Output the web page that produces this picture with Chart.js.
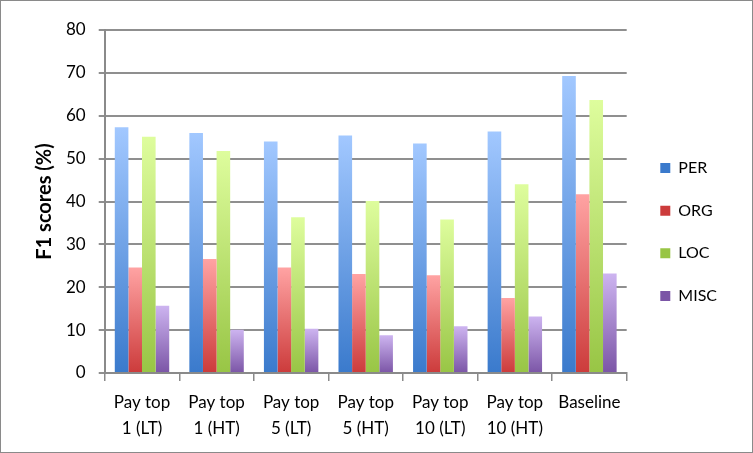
<!DOCTYPE html>
<html>
<head>
<meta charset="utf-8">
<script src="https://cdn.jsdelivr.net/npm/chart.js@4"></script>
<style>
    body { margin: 0; background: #fff; }
    #wrap { width: 753px; height: 453px; box-sizing: border-box; border: 1px solid #8a8a8a; }
</style>
</head>
<body>
<div id="wrap"><canvas id="chart" width="751" height="451"></canvas></div>
<script>
    // Datos
    const categories = [
        ['Pay top', '1 (LT)'], ['Pay top', '1 (HT)'], ['Pay top', '5 (LT)'],
        ['Pay top', '5 (HT)'], ['Pay top', '10 (LT)'], ['Pay top', '10 (HT)'], 'Baseline'
    ];
    const per  = [57.3, 56.0, 54.0, 55.4, 53.5, 56.3, 69.3];
    const org  = [24.6, 26.6, 24.6, 23.1, 22.8, 17.5, 41.7];
    const loc  = [55.1, 51.8, 36.3, 40.1, 35.8, 44.0, 63.7];
    const misc = [15.7, 10.1, 10.3, 8.8, 10.9, 13.2, 23.2];

    // top / bottom de cada degradado
    const shades = {
        PER:  ['#a2c8ff', '#3a7acc'],
        ORG:  ['#ffa3a3', '#cc3b3b'],
        LOC:  ['#defd9d', '#98c545'],
        MISC: ['#cdb4f0', '#7b55a6']
    };

    // hueco extra entre el area del grafico y la leyenda
    const legendGap = 10;

    function barGradient(name) {
        return function (ctx) {
            const chart = ctx.chart;
            const area = chart.chartArea;
            const c = shades[name];
            if (!area || ctx.type !== 'data') return c[1];
            const y = chart.scales.y.getPixelForValue(ctx.raw);
            const g = chart.ctx.createLinearGradient(0, y, 0, area.bottom);
            g.addColorStop(0, c[0]);
            g.addColorStop(1, c[1]);
            return g;
        };
    }

    function ds(name, values) {
        return {
            label: name,
            data: values,
            backgroundColor: barGradient(name),
            borderWidth: 0,
            barPercentage: 1,
            categoryPercentage: 0.73
        };
    }

    const legendShift = {
        id: 'legendShift',
        beforeLayout(chart) {
            const lg = chart.legend;
            if (!lg || lg._shifted) return;
            lg._shifted = true;
            const fit = lg.fit, draw = lg.draw;
            lg.fit = function () { fit.call(this); this.width += legendGap; };
            lg.draw = function () {
                this.ctx.save();
                this.ctx.translate(legendGap - 3, -8);
                draw.call(this);
                this.ctx.restore();
            };
        }
    };

    new Chart(document.getElementById('chart'), {
        type: 'bar',
        data: {
            labels: categories,
            datasets: [ds('PER', per), ds('ORG', org), ds('LOC', loc), ds('MISC', misc)]
        },
        plugins: [legendShift],
        options: {
            responsive: false,
            animation: false,
            layout: { padding: { top: 29, right: 22, left: 12, bottom: 2 } },
            plugins: {
                tooltip: { enabled: false },
                legend: {
                    position: 'right',
                    labels: {
                        color: '#000',
                        font: { family: 'Lato', size: 16 },
                        boxWidth: 10,
                        boxHeight: 10,
                        padding: 26.6,
                        generateLabels: function (chart) {
                            return chart.data.datasets.map((d, i) => ({
                                text: d.label,
                                fillStyle: shades[d.label][1],
                                strokeStyle: shades[d.label][1],
                                lineWidth: 0,
                                datasetIndex: i
                            }));
                        }
                    }
                }
            },
            scales: {
                x: {
                    grid: {
                        offset: true,
                        drawOnChartArea: false,
                        drawTicks: true,
                        tickLength: 8,
                        color: '#8a8a8a',
                        lineWidth: 1.5
                    },
                    border: { color: '#8a8a8a', width: 2 },
                    ticks: {
                        color: '#000',
                        font: { family: 'Lato', size: 17, lineHeight: 1.5 },
                        maxRotation: 0,
                        padding: 9
                    }
                },
                y: {
                    min: 0,
                    max: 80,
                    ticks: {
                        stepSize: 10,
                        color: '#000',
                        font: { family: 'Lato', size: 17 },
                        padding: 13
                    },
                    grid: { color: '#8f8f8f', lineWidth: 2, tickLength: 6 },
                    border: { color: '#8a8a8a', width: 2 },
                    title: {
                        display: true,
                        text: 'F1 scores (%)',
                        color: '#000',
                        font: { family: 'Lato', size: 20, weight: 'bold' },
                        padding: { top: 20, bottom: -4 }
                    }
                }
            }
        }
    });
</script>
</body>
</html>
